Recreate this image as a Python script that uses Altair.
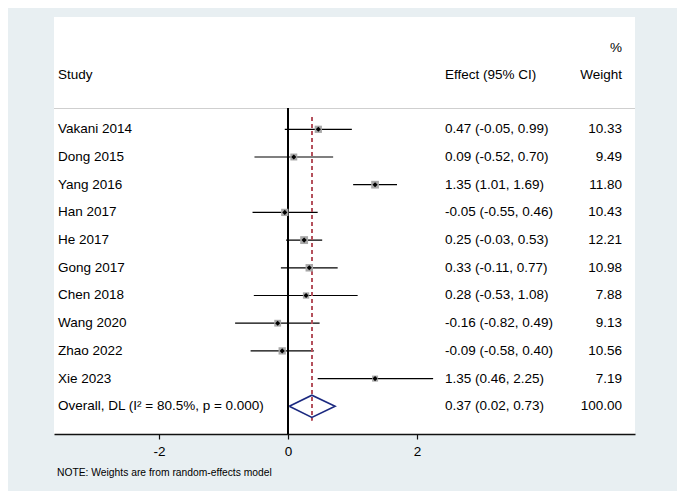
import altair as alt
import pandas as pd

# ---- data ----
studies = ["Vakani 2014", "Dong 2015", "Yang 2016", "Han 2017", "He 2017",
           "Gong 2017", "Chen 2018", "Wang 2020", "Zhao 2022", "Xie 2023"]
effects = [0.47, 0.09, 1.35, -0.05, 0.25, 0.33, 0.28, -0.16, -0.09, 1.35]
ci_low = [-0.05, -0.52, 1.01, -0.55, -0.03, -0.11, -0.53, -0.82, -0.58, 0.46]
ci_high = [0.99, 0.70, 1.69, 0.46, 0.53, 0.77, 1.08, 0.49, 0.40, 2.25]
weights = [10.33, 9.49, 11.80, 10.43, 12.21, 10.98, 7.88, 9.13, 10.56, 7.19]

overall_label = "Overall, DL (I\u00b2 = 80.5%, p = 0.000)"
overall_effect = 0.37
overall_low = 0.02
overall_high = 0.73
overall_weight = 100.00

x_ticks = [-2, 0, 2]
note_text = "NOTE: Weights are from random-effects model"

FONT = "Liberation Sans"
FS = 13.5
BG = "#e8eff2"

n = len(studies)
df = pd.DataFrame({
    "study": studies, "eff": effects, "lo": ci_low, "hi": ci_high,
    "w": weights, "row": list(range(n)),
})
df["eff_txt"] = [f"{e:.2f} ({l:.2f}, {h:.2f})" for e, l, h in zip(effects, ci_low, ci_high)]
df["w_txt"] = [f"{w:.2f}" for w in weights]

ov_row = n
labels = pd.DataFrame({
    "study": studies + [overall_label],
    "eff_txt": list(df["eff_txt"]) + [f"{overall_effect:.2f} ({overall_low:.2f}, {overall_high:.2f})"],
    "w_txt": list(df["w_txt"]) + [f"{overall_weight:.2f}"],
    "row": list(range(n + 1)),
})

diamond = pd.DataFrame({
    "x": [overall_low, overall_effect, overall_high, overall_effect, overall_low],
    "y": [ov_row, ov_row - 0.4, ov_row, ov_row + 0.4, ov_row],
    "o": [0, 1, 2, 3, 4],
})

XMIN, XMAX = -3.628, 5.38
YMIN, YMAX = -4.054, 11.0
xs = alt.Scale(domain=[XMIN, XMAX], nice=False, zero=False)
ys = alt.Scale(domain=[YMIN, YMAX], nice=False, zero=False, reverse=True)

W, H = 581, 417

base = alt.Chart(df)

ci = base.mark_rule(color="#000000", strokeWidth=1.2).encode(
    x=alt.X("lo:Q", scale=xs,
            axis=alt.Axis(values=x_ticks, title=None, grid=False,
                          labelExpr="'' + datum.value",
                          domainColor="#111111", domainWidth=1.4,
                          tickColor="#111111", tickSize=5, tickWidth=1.2,
                          labelFont=FONT, labelFontSize=FS, labelColor="#000000",
                          labelPadding=5)),
    x2="hi:Q",
    y=alt.Y("row:Q", scale=ys, axis=None),
)

boxes = base.mark_square(color="#a8a8a8", opacity=1).encode(
    x="eff:Q", y="row:Q",
    size=alt.Size("w:Q", scale=alt.Scale(domain=[0, 12.21], range=[0, 62]), legend=None),
)

dots = base.mark_point(shape="diamond", filled=True, color="#000000", size=26, opacity=1).encode(
    x="eff:Q", y="row:Q",
)

zero_line = alt.Chart(df).mark_rule(color="#000000", strokeWidth=1.2).encode(
    x=alt.datum(0), y=alt.datum(-0.75), y2=alt.datum(YMAX),
)

ov_line = alt.Chart(df).mark_rule(color="#b5505c", strokeWidth=1.1, strokeDash=[4, 3]).encode(
    x=alt.datum(overall_effect), y=alt.datum(-0.44), y2=alt.datum(ov_row + 0.5),
)

diam = alt.Chart(diamond).mark_line(color="#1c2a80", strokeWidth=1.6).encode(
    x="x:Q", y="y:Q", order="o:Q",
)

sep = alt.Chart(df).mark_rule(color="#cfcfcf", strokeWidth=1.2).encode(
    x=alt.datum(XMIN), x2=alt.datum(XMAX), y=alt.datum(-0.75),
)

lab = alt.Chart(labels)
study_txt = lab.mark_text(align="left", baseline="middle", font=FONT, fontSize=FS, color="#000000").encode(
    x=alt.value(4), y="row:Q", text="study:N",
)
eff_txt = lab.mark_text(align="left", baseline="middle", font=FONT, fontSize=FS, color="#000000").encode(
    x=alt.value(391), y="row:Q", text="eff_txt:N",
)
w_txt = lab.mark_text(align="right", baseline="middle", font=FONT, fontSize=FS, color="#000000").encode(
    x=alt.value(568), y="row:Q", text="w_txt:N",
)

headers = pd.DataFrame({
    "t": ["Study", "Effect (95% CI)", "Weight", "%"],
    "row": [-1.96, -1.96, -1.96, -2.95],
})
hdr_left = alt.Chart(headers.iloc[:1]).mark_text(
    align="left", baseline="middle", font=FONT, fontSize=FS, color="#000000").encode(
    x=alt.value(4), y="row:Q", text="t:N")
hdr_eff = alt.Chart(headers.iloc[1:2]).mark_text(
    align="left", baseline="middle", font=FONT, fontSize=FS, color="#000000").encode(
    x=alt.value(391), y="row:Q", text="t:N")
hdr_right = alt.Chart(headers.iloc[2:4]).mark_text(
    align="right", baseline="middle", font=FONT, fontSize=FS, color="#000000").encode(
    x=alt.value(568), y="row:Q", text="t:N")

note = alt.Chart(pd.DataFrame({"t": [note_text]})).mark_text(
    align="left", baseline="middle", font=FONT, fontSize=10.3, color="#000000").encode(
    x=alt.value(3), y=alt.value(456), text="t:N")

chart = alt.layer(
    ci, sep, zero_line, ov_line, boxes, dots, diam,
    study_txt, eff_txt, w_txt, hdr_left, hdr_eff, hdr_right, note,
).properties(
    width=W, height=H,
    autosize=alt.AutoSizeParams(type="none"),
    padding={"left": 46, "top": 9, "right": 42, "bottom": 57},
    background=BG,
).configure_view(
    fill="#ffffff", stroke=None,
)

chart.save("out.html", embed_options={"renderer": "svg", "actions": False})
